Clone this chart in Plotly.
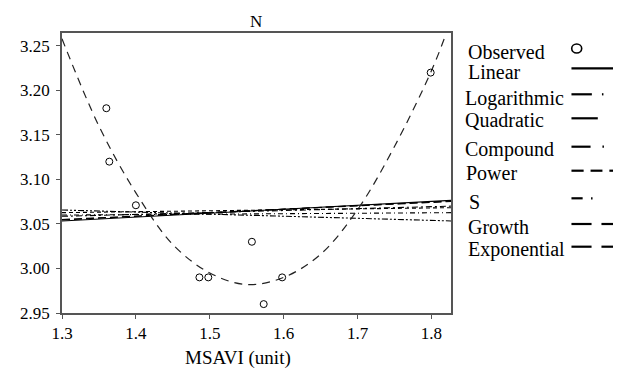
import plotly.graph_objects as go

# ---- data ----
obs_x = [1.360, 1.364, 1.400, 1.486, 1.498, 1.557, 1.573, 1.598, 1.799]
obs_y = [3.180, 3.120, 3.071, 2.990, 2.990, 3.030, 2.960, 2.990, 3.220]

quad_x = [1.30, 1.35, 1.40, 1.45, 1.50, 1.55, 1.60, 1.65, 1.70, 1.75, 1.80, 1.82]
quad_y = [3.258, 3.160, 3.085, 3.027, 2.995, 2.982, 2.990, 3.016, 3.066, 3.137, 3.222, 3.264]

edge_x = [1.30, 1.8265]
linear_y = [3.0534, 3.0765]
log_y = [3.0586, 3.0700]
compound_y = [3.0657, 3.0534]
power_y = [3.0627, 3.0683]
s_y = [3.0600, 3.0627]
growth_y = [3.0545, 3.0758]
expo_y = [3.0550, 3.0752]

legend_names = ["Observed", "Linear", "Logarithmic", "Quadratic", "Compound",
                "Power", "S", "Growth", "Exponential"]

FONT = "Liberation Serif"

fig = go.Figure()

line_specs = [
    (linear_y, "solid"),
    (log_y, "6px,3px,2px,3px"),
    (compound_y, "6px,2px,2px,2px,2px,2px"),
    (power_y, "4px,3px"),
    (s_y, "5px,3px,1px,3px"),
    (growth_y, "8px,4px"),
    (expo_y, "8px,4px"),
]
for ys, dash in line_specs:
    fig.add_trace(go.Scatter(x=edge_x, y=ys, mode="lines",
                             line=dict(color="black", width=1.1, dash=dash),
                             showlegend=False, hoverinfo="skip"))

fig.add_trace(go.Scatter(x=quad_x, y=quad_y, mode="lines", line_shape="spline",
                         line=dict(color="#222", width=1.2, dash="8px,6px"),
                         showlegend=False, hoverinfo="skip"))

fig.add_trace(go.Scatter(x=obs_x, y=obs_y, mode="markers",
                         marker=dict(symbol="circle-open", size=7,
                                     color="black", line=dict(width=1)),
                         showlegend=False))

# ---- layout geometry (page body has an 8px margin) ----
OFF = 8
W, H = 621 - OFF, 376 - OFF
L, T = 58 - OFF, 33 - OFF
PW, PH = 393, 280
R, B = W - L - PW, H - T - PH


def px(x):
    return (x - OFF - L) / PW


def py(y):
    return (T + PH - (y - OFF)) / PH


annotations = []
shapes = []

# Title
annotations.append(dict(text="N", x=px(254), y=py(22), xref="paper", yref="paper",
                        showarrow=False, xanchor="center", yanchor="middle",
                        font=dict(family=FONT, size=17, color="black")))
# X axis title
annotations.append(dict(text="MSAVI (unit)", x=px(236), y=py(358), xref="paper",
                        yref="paper", showarrow=False, xanchor="center",
                        yanchor="middle",
                        font=dict(family=FONT, size=19, color="black")))

# Legend (text at left, sample at right)
text_pos = [(466.7, 51.7), (466.7, 71.7), (464.3, 98.3), (464.3, 120.0),
            (464.0, 149.3), (465.0, 173.3), (468.3, 201.7), (466.7, 226.7),
            (467.3, 249.3)]
for name, (tx, ty) in zip(legend_names, text_pos):
    annotations.append(dict(text=name, x=px(tx - 1), y=py(ty), xref="paper",
                            yref="paper", showarrow=False, xanchor="left",
                            yanchor="middle",
                            font=dict(family=FONT, size=20, color="black")))

# observed circle sample
shapes.append(dict(type="circle", xref="paper", yref="paper",
                   xsizemode="pixel", ysizemode="pixel",
                   xanchor=px(578), yanchor=py(48.5),
                   x0=-5, x1=5, y0=-4.5, y1=4.5,
                   line=dict(color="black", width=1.6)))

# line samples: list of (y, [segments])
samples = [
    (68.3, [(572.7, 621)]),
    (94.3, [(572.7, 593.3), (603.5, 605)]),
    (118.3, [(572.7, 599.3)]),
    (146.7, [(572.7, 592), (604, 605.5), (615, 616.5)]),
    (170.7, [(572.7, 585), (592, 604), (611, 621)]),
    (198.3, [(572.7, 584), (592.5, 594)]),
    (224.0, [(572.7, 593), (603, 621)]),
    (246.7, [(572.7, 593), (603, 621)]),
]
for sy, segs in samples:
    for x0, x1 in segs:
        shapes.append(dict(type="line", xref="paper", yref="paper",
                           x0=px(x0), x1=px(x1), y0=py(sy), y1=py(sy),
                           line=dict(color="black", width=2.2)))

axis_common = dict(showgrid=False, zeroline=False, showline=True, mirror=True,
                   linecolor="#555", linewidth=1.5, ticks="outside", ticklen=4,
                   tickcolor="#555", tickwidth=1.2,
                   tickfont=dict(family=FONT, size=17, color="black"))

fig.update_layout(
    width=W, height=H,
    margin=dict(l=L, r=R, t=T, b=B, pad=0),
    paper_bgcolor="white", plot_bgcolor="white",
    xaxis=dict(range=[1.3, 1.8265], tickvals=[1.3, 1.4, 1.5, 1.6, 1.7, 1.8],
               ticktext=["1.3", "1.4", "1.5", "1.6", "1.7", "1.8"], **axis_common),
    yaxis=dict(range=[2.95, 3.2645],
               tickvals=[2.95, 3.00, 3.05, 3.10, 3.15, 3.20, 3.25],
               ticktext=["2.95", "3.00", "3.05", "3.10", "3.15", "3.20", "3.25"],
               ticklabelstandoff=3, **axis_common),
    annotations=annotations,
    shapes=shapes,
    showlegend=False,
)

fig.write_html("out.html")
